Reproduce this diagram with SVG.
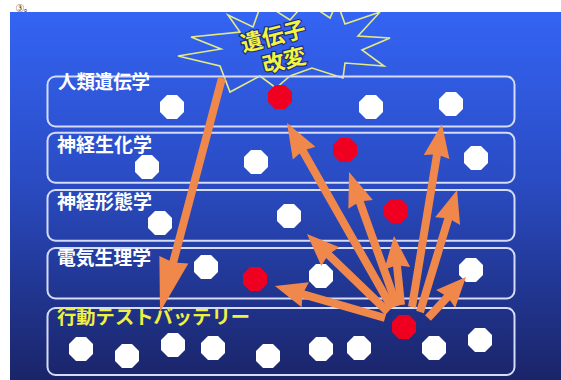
<svg xmlns="http://www.w3.org/2000/svg" width="561" height="380" viewBox="0 0 561 380">
<defs>
<linearGradient id="bg" x1="0" y1="0" x2="0" y2="1">
<stop offset="0" stop-color="#3464f4"/>
<stop offset="0.45" stop-color="#2a4cc4"/>
<stop offset="1" stop-color="#1a2468"/>
</linearGradient>
<clipPath id="clip"><rect x="10" y="12" width="551" height="368"/></clipPath>
<path id="oct" d="M12,5 L5,12 L-5,12 L-12,5 L-12,-5 L-5,-12 L5,-12 L12,-5 Z"/>
<style>
.box{fill:none;stroke:#d4dcf8;stroke-width:2}
.lbl{font-family:"Noto Sans CJK JP","Noto Sans",sans-serif;font-size:19px;font-weight:bold;fill:#ffffff}
.w{fill:#ffffff}
.r{fill:#f00020}
.arr{fill:#f0884c}
.star{fill:none;stroke:#e4ea84;stroke-width:1.6;stroke-linejoin:miter}
.st{font-family:"Noto Sans CJK JP",sans-serif;font-size:22px;font-weight:bold;fill:#f4f43c;stroke:#1a2a80;stroke-width:2.2;paint-order:stroke}
</style>
</defs>
<rect x="0" y="0" width="561" height="380" fill="#ffffff"/>
<text x="16" y="11" font-family="Noto Sans CJK JP,sans-serif" font-size="8" fill="#000">③。</text>
<rect x="10" y="12" width="551" height="368" fill="url(#bg)"/>

<g id="star" clip-path="url(#clip)">
<polygon class="star" points="178,56 221,49 191,37 240,32 228,15 253,27 262,2 290,20 306,2 330,18 337,2 345,24 380,12 358,36 390,38 362,50 384,66 345,63 343,78 312,68 290,76 276,88 260,76 230,92 220,66"/>
<text class="st" transform="translate(275,44) rotate(-14)" text-anchor="middle">遺伝子</text>
<text class="st" transform="translate(286,68) rotate(-14)" text-anchor="middle">改変</text>
</g>

<g id="box1">
<rect class="box" x="47.5" y="76.5" width="467" height="50" rx="8"/>
<text class="lbl" x="58" y="88.5" textLength="92" lengthAdjust="spacingAndGlyphs">人類遺伝学</text>
<use href="#oct" class="w" x="172" y="107"/>
<use href="#oct" class="r" x="280" y="97"/>
<use href="#oct" class="w" x="371" y="107"/>
<use href="#oct" class="w" x="451" y="104"/>
</g>
<g id="box2">
<rect class="box" x="47.5" y="132.7" width="467" height="50" rx="8"/>
<text class="lbl" x="57" y="151.5" textLength="95" lengthAdjust="spacingAndGlyphs">神経生化学</text>
<use href="#oct" class="w" x="147" y="167"/>
<use href="#oct" class="w" x="256" y="162"/>
<use href="#oct" class="r" x="345" y="150"/>
<use href="#oct" class="w" x="476" y="158"/>
</g>
<g id="box3">
<rect class="box" x="47.5" y="190" width="467" height="50.7" rx="8"/>
<text class="lbl" x="57" y="208.5" textLength="95" lengthAdjust="spacingAndGlyphs">神経形態学</text>
<use href="#oct" class="w" x="160" y="223"/>
<use href="#oct" class="w" x="289" y="216"/>
<use href="#oct" class="r" x="396" y="211"/>
</g>
<g id="box4">
<rect class="box" x="47.5" y="248" width="467" height="50.5" rx="8"/>
<text class="lbl" x="57" y="265" textLength="94" lengthAdjust="spacingAndGlyphs">電気生理学</text>
<use href="#oct" class="w" x="206" y="267"/>
<use href="#oct" class="r" x="255" y="279"/>
<use href="#oct" class="w" x="321" y="276"/>
<use href="#oct" class="w" x="471" y="270"/>
</g>
<g id="box5">
<rect class="box" x="47.5" y="308" width="467" height="67" rx="8"/>
<text class="lbl" x="57" y="324" textLength="193" lengthAdjust="spacingAndGlyphs" style="fill:#f0f040">行動テストバッテリー</text>
<use href="#oct" class="w" x="81" y="349"/>
<use href="#oct" class="w" x="127" y="356"/>
<use href="#oct" class="w" x="173" y="345"/>
<use href="#oct" class="w" x="213" y="348"/>
<use href="#oct" class="w" x="268" y="356"/>
<use href="#oct" class="w" x="321" y="349"/>
<use href="#oct" class="w" x="359" y="348"/>
<use href="#oct" class="w" x="434" y="348"/>
<use href="#oct" class="w" x="480" y="340"/>
<use href="#oct" class="r" x="404" y="327"/>
</g>

<g id="connectors" class="arr">
<path transform="translate(222,78) rotate(104.84)" d="M0,-4 L190,-4 L188,-15 L242,0 L188,15 L190,4 L0,4 Z"/>
<path transform="translate(392,308) rotate(-119.58)" d="M0,-4 L180,-4 L178,-13 L212.7,0 L178,13 L180,4 L0,4 Z"/>
<path transform="translate(397,306) rotate(-109.7)" d="M0,-4 L110,-4 L108,-13 L142.3,0 L108,13 L110,4 L0,4 Z"/>
<path transform="translate(388,312) rotate(-136.1)" d="M0,-4 L82,-4 L80,-13 L112.5,0 L80,13 L82,4 L0,4 Z"/>
<path transform="translate(401,305) rotate(-95.8)" d="M0,-4 L39,-4 L37,-13 L69.4,0 L37,13 L39,4 L0,4 Z"/>
<path transform="translate(412,307) rotate(-80.7)" d="M0,-4 L154,-4 L152,-13 L185.4,0 L152,13 L154,4 L0,4 Z"/>
<path transform="translate(420,312) rotate(-73.1)" d="M0,-4 L97,-4 L95,-13 L127.5,0 L95,13 L97,4 L0,4 Z"/>
<path transform="translate(428,318) rotate(-47.2)" d="M0,-4 L28,-4 L26,-13 L55.9,0 L26,13 L28,4 L0,4 Z"/>
<path transform="translate(385,318) rotate(-163.8)" d="M0,-4 L85,-4 L83,-13 L114.6,0 L83,13 L85,4 L0,4 Z"/>
</g>
</svg>
